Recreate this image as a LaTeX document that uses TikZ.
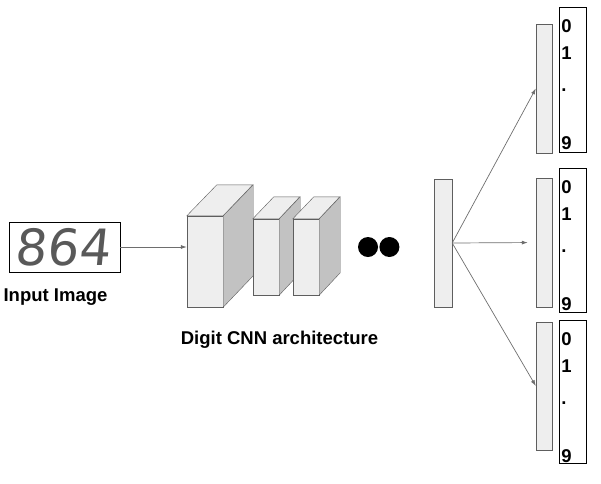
\documentclass[tikz,border=0pt]{standalone}
\usepackage{fontspec}
\setmainfont{Liberation Sans}
\newfontfamily\handfont{DejaVu Sans}
\usetikzlibrary{arrows.meta, positioning, calc}

\definecolor{facegray}{HTML}{EEEEEE}
\definecolor{sidegray}{HTML}{C2C2C2}
\definecolor{edgegray}{HTML}{5E5E5E}

\begin{document}
\begin{tikzpicture}[x=1pt, y=-1pt]
		\tikzstyle{layer} = [rectangle, draw=edgegray, fill=facegray, inner sep=0pt]
		\tikzstyle{line} = [draw=edgegray!90, line width=0.7pt, -{Latex[length=6pt, width=4pt]}]
		\tikzstyle{digits} = [rectangle, draw, line width=0.9pt, minimum width=27pt, inner sep=0pt]
		\tikzstyle{label} = [font=\fontsize{18.5}{20}\selectfont\bfseries, anchor=base, inner sep=0pt]
		\useasboundingbox (0,0) rectangle (601,483);

		% input
		\node [rectangle, draw, line width=0.9pt, minimum width=111pt, minimum height=50pt, inner sep=0pt] (input) at (64.5,247) {};
		\node [font=\handfont\fontsize{50}{50}\selectfont, text=black!65, xslant=0.1] at (input) {864};
		\node [label] (inputlabel) at (55.5,301) {Input Image};

		% conv blocks
		\node [layer, minimum width=36pt, minimum height=91pt] (conv1) at (205,261.5) {};
		\draw [draw=edgegray, fill=facegray] (conv1.north west) -- ++(30,-31) -- ++(36,0) -- (conv1.north east) -- cycle;
		\draw [draw=edgegray, fill=sidegray] (conv1.north east) -- ++(30,-31) -- ++(0,91) -- (conv1.south east) -- cycle;
		\node [layer, minimum width=26pt, minimum height=76pt] (conv2) at (266,257) {};
		\draw [draw=edgegray, fill=facegray] (conv2.north west) -- ++(21,-22) -- ++(26,0) -- (conv2.north east) -- cycle;
		\draw [draw=edgegray, fill=sidegray] (conv2.north east) -- ++(21,-22) -- ++(0,76) -- (conv2.south east) -- cycle;
		\node [layer, minimum width=26pt, minimum height=76pt] (conv3) at (306,257) {};
		\draw [draw=edgegray, fill=facegray] (conv3.north west) -- ++(21,-22) -- ++(26,0) -- (conv3.north east) -- cycle;
		\draw [draw=edgegray, fill=sidegray] (conv3.north east) -- ++(21,-22) -- ++(0,76) -- (conv3.south east) -- cycle;
		\node [label] (cnnlabel) at (279.5,344) {Digit CNN architecture};

		\node [circle, fill=black, minimum size=20pt, inner sep=0pt] (dot1) at (368,247) {};
		\node [circle, fill=black, minimum size=20pt, inner sep=0pt, right=1pt of dot1] (dot2) {};

		% dense + outputs
		\node [layer, minimum width=18pt, minimum height=128pt] (fc) at (443,243) {};
		\node [layer, minimum width=16pt, minimum height=129pt] (out1) at (544,88.5) {};
		\node [layer, minimum width=16pt, minimum height=129pt] (out2) at (544,242.5) {};
		\node [layer, minimum width=16pt, minimum height=128pt] (out3) at (544,386) {};

		\node [digits, minimum height=145pt] (class1) at (572.5,80) {};
		\node [digits, minimum height=144pt] (class2) at (572.5,240) {};
		\node [digits, minimum height=143pt] (class3) at (572.5,391.5) {};
		\foreach \c in {class1, class2, class3} {
			\node [label, anchor=base west] at ($(\c.north west)+(2.5,25.5)$) {0};
			\node [label, anchor=base west] at ($(\c.north west)+(2.5,52.5)$) {1};
			\node [label, anchor=base west] at ($(\c.north west)+(2.5,84.5)$) {.};
			\node [label, anchor=base west] at ($(\c.north west)+(2.5,142.5)$) {9};
		}

		\path [line] (input.east) -- (input.east -| conv1.west);
		\path [line] (fc.east) -- (out1.west);
		\path [line, shorten >=8pt] (fc.east) -- (out2.west);
		\path [line] (fc.east) -- (out3.west);
	\end{tikzpicture}
\end{document}
